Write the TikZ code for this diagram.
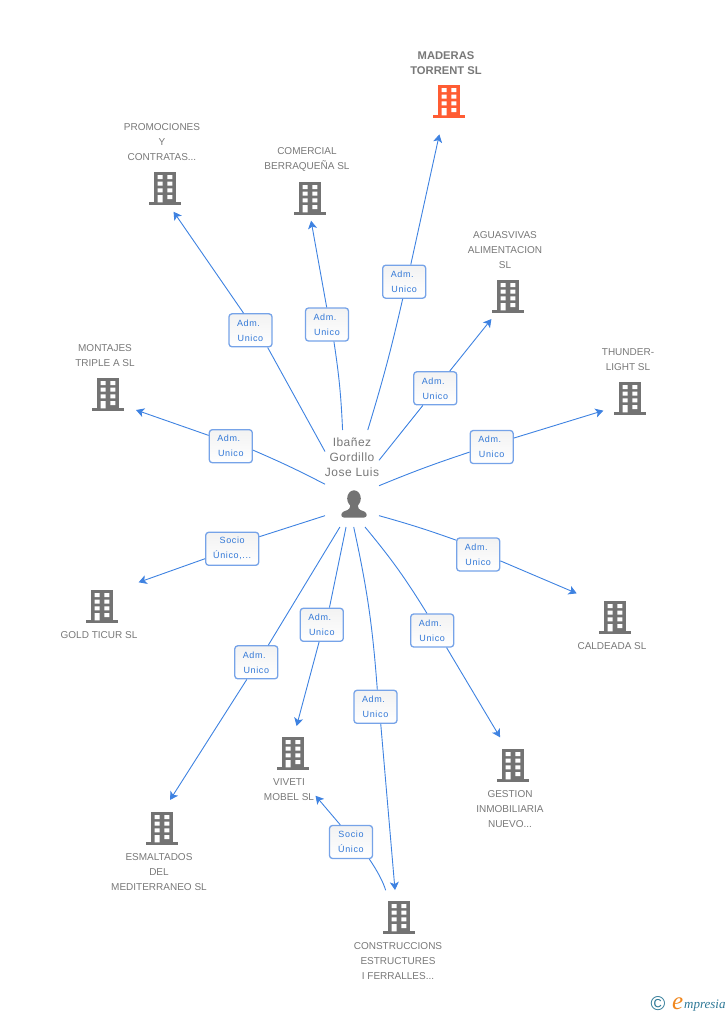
\documentclass[tikz,border=0pt]{standalone}
\usepackage{fontspec}
\setmainfont{Liberation Sans}
\newfontfamily\wmfont{Liberation Serif}
\usetikzlibrary{arrows.meta}
\definecolor{linkblue}{RGB}{62, 130, 225}
\definecolor{boxblue}{RGB}{118, 163, 232}
\definecolor{txtblue}{RGB}{50, 120, 215}
\definecolor{txtgray}{RGB}{120, 120, 120}
\definecolor{bldgray}{RGB}{115, 115, 115}
\definecolor{bldorange}{RGB}{255, 92, 51}
\definecolor{wmteal}{RGB}{45, 120, 150}
\definecolor{wmorange}{RGB}{240, 135, 30}
\newcommand{\admunico}{Adm.\hspace*{4pt}\\Unico}

\begin{document}
\begin{tikzpicture}[
        x=1pt, y=-1pt,
        bld/.style={
            minimum width=33pt, minimum height=37pt, inner sep=0pt, outer sep=0pt,
            path picture={
                \begin{scope}[shift={(path picture bounding box.center)}]
                    \fill[#1] (-11.3,-16.2) rectangle (11.3,15);
                    \fill[#1] (-16,14.3) rectangle (16,16.8);
                    \fill[white] (-7.3,-13) rectangle (-2.3,-9) (2.3,-13) rectangle (7.3,-9);
                    \fill[white] (-7.3,-6.3) rectangle (-2.3,-2.3) (2.3,-6.3) rectangle (7.3,-2.3);
                    \fill[white] (-7.3,0.3) rectangle (-2.3,4.3) (2.3,0.3) rectangle (7.3,4.3);
                    \fill[white] (-7.3,7) rectangle (-2.3,14.3) (2.3,7) rectangle (7.3,11);
                \end{scope}
            }
        },
        man/.style={
            minimum width=54pt, minimum height=97pt, inner sep=0pt, outer sep=0pt,
            path picture={
                \begin{scope}[shift={(path picture bounding box.center)}]
                    \fill[bldgray] (2,20) ellipse (6.8 and 8.2);
                    \fill[bldgray, rounded corners=2.5pt] (-10.7,39) -- (-10.7,34) -- (-2,30.5) -- (-2,24) -- (6,24) -- (6,30.5) -- (14.7,34) -- (14.7,39) -- cycle;
                \end{scope}
            }
        },
        lbl/.style={font=\fontsize{10}{15}\selectfont, text=txtgray, align=center, inner sep=0pt},
        tag/.style={
            draw=boxblue, line width=1.3pt, rounded corners=3pt, top color=black!5, bottom color=white, text=txtblue,
            font=\fontsize{9}{15}\selectfont\addfontfeature{LetterSpace=7}, align=center,
            minimum width=43pt, minimum height=33pt, inner sep=0pt
        },
        link/.style={draw=linkblue, line width=0.9pt},
        arr/.style={link, -{Stealth[length=8pt, width=9pt, inset=2pt]}}
    ]
    \useasboundingbox (0,0) rectangle (728,1015);

    % person
    \node (person) [man] at (352,478.5) {};
    \node (jose) [lbl, font=\fontsize{12}{15}\selectfont\addfontfeature{LetterSpace=4}] at (352,456.8) {Ibañez\\Gordillo\\Jose Luis};

    % companies
    \node (torrent) [bld=bldorange] at (449,101) {};
    \node (promo) [bld=bldgray] at (165,188) {};
    \node (comercial) [bld=bldgray] at (310,198) {};
    \node (aguas) [bld=bldgray] at (508,296) {};
    \node (montajes) [bld=bldgray] at (108,394) {};
    \node (thunder) [bld=bldgray] at (630,398) {};
    \node (gold) [bld=bldgray] at (102,606) {};
    \node (caldeada) [bld=bldgray] at (615,617) {};
    \node (gestion) [bld=bldgray] at (513,765) {};
    \node (viveti) [bld=bldgray] at (293,753) {};
    \node (esmalt) [bld=bldgray] at (162,828) {};
    \node (constr) [bld=bldgray] at (399,917) {};

    \node (ltorrent) [lbl, font=\fontsize{11.2}{15}\selectfont\bfseries] at (446,63.3) {MADERAS\\TORRENT SL};
    \node (lpromo) [lbl] at (162,142.3) {PROMOCIONES\\Y\\CONTRATAS...};
    \node (lcomercial) [lbl] at (307,159.8) {COMERCIAL\\BERRAQUEÑA SL};
    \node (laguas) [lbl] at (505,250.3) {AGUASVIVAS\\ALIMENTACION\\SL};
    \node (lmontajes) [lbl] at (105,355.8) {MONTAJES\\TRIPLE A SL};
    \node (lthunder) [lbl] at (628,359.8) {THUNDER-\\LIGHT SL};
    \node (lgold) [lbl] at (99,635.3) {GOLD TICUR SL};
    \node (lcaldeada) [lbl] at (612,646.3) {CALDEADA SL};
    \node (lgestion) [lbl] at (510,809.3) {GESTION\\INMOBILIARIA\\NUEVO...};
    \node (lviveti) [lbl] at (289,789.3) {VIVETI\\MOBEL SL};
    \node (lesmalt) [lbl] at (159,872.3) {ESMALTADOS\\DEL\\MEDITERRANEO SL};
    \node (lconstr) [lbl] at (398,961.3) {CONSTRUCCIONS\\ESTRUCTURES\\I FERRALLES...};

    % tags
    \node (ttorrent) [tag] at (404.2,281.7) {\admunico};
    \node (tpromo) [tag] at (250.5,330.3) {\admunico};
    \node (tcomercial) [tag] at (327,324.5) {\admunico};
    \node (taguas) [tag] at (435.3,388.3) {\admunico};
    \node (tthunder) [tag] at (491.7,447) {\admunico};
    \node (tmontajes) [tag] at (230.8,446.2) {\admunico};
    \node (tgold) [tag, minimum width=53pt] at (232.2,548.8) {Socio\\Único,...};
    \node (tcaldeada) [tag] at (478.2,554.5) {\admunico};
    \node (tgestion) [tag] at (432.2,630.5) {\admunico};
    \node (tconstr) [tag] at (375.5,706.8) {\admunico};
    \node (tviveti) [tag] at (321.8,624.8) {\admunico};
    \node (tesmalt) [tag] at (256.3,662.3) {\admunico};
    \node (tsocio) [tag] at (351,842) {Socio\\Único};

    % connectors
    \draw[link] (person.72.5) to[bend right=2] (ttorrent.265);
    \draw[arr, shorten >=15.2pt] (ttorrent.69.5) -- (torrent.251);
    \draw[link] (person.135) -- (tpromo.-45);
    \draw[arr, shorten >=6.3pt] (tpromo.112) -- (promo.-75);
    \draw[link] (person.101.7) to[bend right=3] (tcomercial.-68);
    \draw[arr, shorten >=4.3pt] (tcomercial.91) -- (comercial.-89);
    \draw[link] (person.34.4) -- (taguas.234);
    \draw[arr, shorten >=5.8pt] (taguas.50) -- (aguas.235.5);
    \draw[link] (person.-15) to[bend left=2] (tthunder.193.7);
    \draw[arr, shorten >=10.6pt] (tthunder.22) -- (thunder.210);
    \draw[link] (person.192) to[bend right=2] (tmontajes.-10);
    \draw[arr, shorten >=12.2pt] (tmontajes.154) -- (montajes.-36);
    \draw[link] (person.234) -- (tgold.24);
    \draw[arr, shorten >=21.4pt] (tgold.200) -- (gold.45);
    \draw[link] (person.-54.7) to[bend left=2] (tcaldeada.147);
    \draw[arr, shorten >=23.7pt] (tcaldeada.-16) -- (caldeada.139);
    \draw[link] (person.285) to[bend left=4] (tgestion.107.7);
    \draw[arr, shorten >=10.7pt] (tgestion.-50) -- (gestion.112);
    \draw[link] (person.272.4) to[bend left=4] (tconstr.84);
    \draw[arr, shorten >=8.5pt] (tconstr.-73) -- (constr.100);
    \draw[link] (person.263) -- (tviveti.66);
    \draw[arr, shorten >=8.8pt] (tviveti.261) -- (viveti.86);
    \draw[link] (person.256.3) -- (tesmalt.55);
    \draw[arr, shorten >=11.3pt] (tesmalt.241) -- (esmalt.84);
    \draw[link, shorten <=8.7pt] (constr.120) to[bend right=8] (tsocio.-43);
    \draw[arr, shorten >=31.8pt] (tsocio.122) -- (viveti.-84);

    % watermark
    \node (wmc) [inner sep=0pt, text=wmteal, font=\fontsize{20}{20}\selectfont] at (658,1004) {©};
    \node (wme) [inner sep=0pt, anchor=base west, text=wmorange, font=\fontsize{25}{25}\selectfont\wmfont\itshape] at (672,1009) {e};
    \node (wmp) [inner sep=0pt, anchor=base west, text=wmteal, font=\fontsize{13}{15}\selectfont\wmfont\itshape] at (684,1008) {mpresia};
\end{tikzpicture}
\end{document}
